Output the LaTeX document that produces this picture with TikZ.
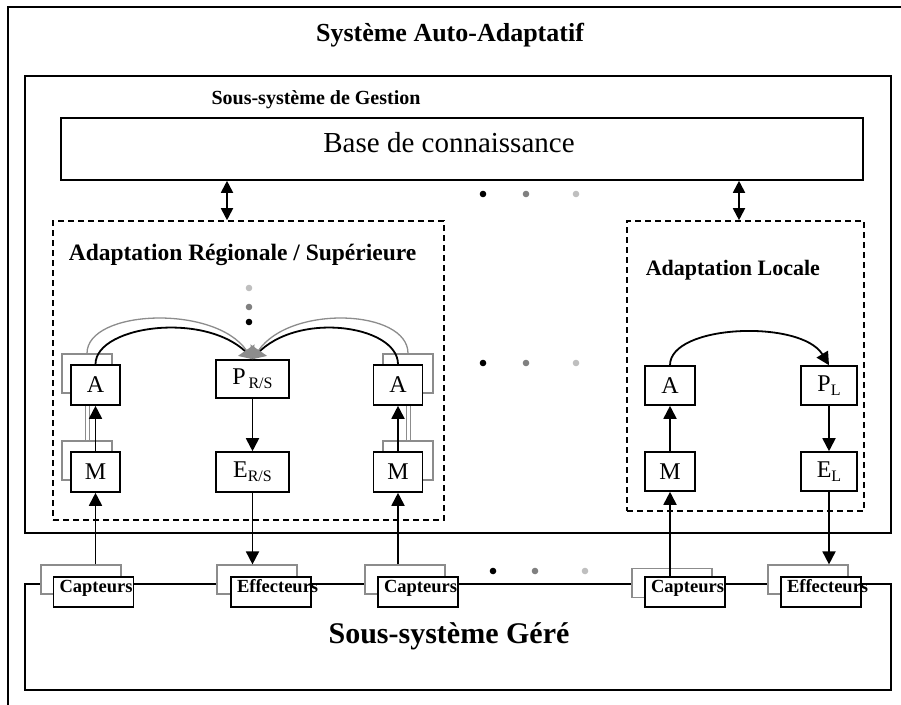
\documentclass[tikz,border=0pt]{standalone}
\usepackage{fontspec}
\setmainfont{Liberation Serif}
\usetikzlibrary{arrows.meta,positioning}
\definecolor{shade}{gray}{0.55}
\definecolor{dotmid}{gray}{0.5}
\definecolor{dotlight}{gray}{0.75}

\begin{document}
\begin{tikzpicture}[x=1pt, y=-1pt, line width=1.6pt, frame/.style={draw, inner sep=0pt}, dbox/.style={draw, dash pattern=on 6pt off 4pt, inner sep=0pt}, lbl/.style={inner sep=0pt}, box/.style={draw, fill=white, inner sep=0pt, minimum width=49pt, minimum height=40pt, font=\fontsize{24}{26}\selectfont}, ghost/.style={draw=shade, line width=1.2pt, fill=white, inner sep=0pt, minimum width=50pt, minimum height=39pt}, sens/.style={draw, fill=white, inner xsep=6pt, inner ysep=0pt, text width=68pt, align=left, minimum height=30pt, text height=13pt, text depth=13pt, font=\bfseries\fontsize{18.5}{19}\selectfont}, sensghost/.style={ghost, minimum width=80pt, minimum height=29pt}, arr/.style={line width=1.8pt, -{Triangle[length=13pt, width=13pt]}}, darr/.style={line width=1.8pt, {Triangle[length=12pt, width=12pt]}-{Triangle[length=12pt, width=12pt]}}, garr/.style={draw=shade, line width=1.3pt, -{Triangle[length=11pt, width=20pt]}}, glink/.style={draw=shade, line width=1pt, double, double distance=3pt}]
\useasboundingbox (0,0) rectangle (901,704);
% whole system and the two subsystems
\draw (8,7) rectangle (912,714);
\node[lbl, font=\bfseries\fontsize{26}{28}\selectfont] (title) at (450,35) {Système Auto-Adaptatif};
\node[frame, minimum width=866pt, minimum height=457pt] (gestion) at (458,304.5) {};
\node[lbl, font=\bfseries\fontsize{20}{22}\selectfont] (gestionlbl) at (316,100) {Sous-système de Gestion};
\node[frame, minimum width=802pt, minimum height=62pt] (base) at (462,149) {};
\node[lbl, font=\fontsize{29}{31}\selectfont] (baselbl) at (449,143) {Base de connaissance};
\node[frame, minimum width=866pt, minimum height=106pt] (gere) at (458,637) {};
\node[lbl, font=\bfseries\fontsize{30}{32}\selectfont] (gerelbl) at (449,636) {Sous-système Géré};
% adaptation regions
\node[dbox, minimum width=391pt, minimum height=299pt] (regional) at (248.5,370.5) {};
\node[lbl, anchor=west, font=\bfseries\fontsize{23.5}{25}\selectfont] (reglbl) at (68,255) {Adaptation Régionale / Supérieure};
\node[dbox, minimum width=237pt, minimum height=290pt] (local) at (745.5,366) {};
\node[lbl, anchor=west, font=\bfseries\fontsize{22}{24}\selectfont] (loclbl) at (645,270) {Adaptation Locale};
\draw[darr] (base.south -| 227,0) -- (regional.north -| 227,0);
\draw[darr] (base.south -| 739,0) -- (local.north -| 739,0);
% dots
\foreach \x/\c in {483/black, 526/dotmid, 576/dotlight} {
  \fill[\c] (\x,194) circle (3.3pt);
  \fill[\c] (\x,363) circle (3.3pt);
}
\foreach \x/\c in {493/black, 535/dotmid, 585/dotlight}
  \fill[\c] (\x,571) circle (3.3pt);
\foreach \y/\c in {322/black, 307/dotmid, 288/dotlight}
  \fill[\c] (249,\y) circle (3.3pt);
% regional loop: shadow copies first
\node[ghost] (aLg) at (87,373.5) {};
\node[ghost] (mLg) at (87,460.5) {};
\node[ghost] (aRg) at (408,373.5) {};
\node[ghost] (mRg) at (408,460.5) {};
\draw[glink] (mLg.north) -- (mLg.north |- 0,405);
\draw[glink] (mRg.north) -- (mRg.north |- 0,405);
\node[box] (aL) at (95.5,385) {A};
\node[box] (mL) at (95.5,472) {M};
\node[box, minimum width=73pt, minimum height=38pt] (pRS) at (252.5,379) {P\raisebox{-4pt}{\fontsize{16}{16}\selectfont\,R/S}};
\node[box, minimum width=73pt] (eRS) at (252.5,472) {E\raisebox{-4pt}{\fontsize{16}{16}\selectfont R/S}};
\node[box] (aR) at (398,385) {A};
\node[box] (mR) at (398,472) {M};
\draw[arr] (mL) -- (aL);
\draw[arr] (mR) -- (aR);
\draw[arr] (pRS) -- (eRS);
\draw[line width=1.8pt] (aL.north) .. controls +(0,-40) and +(-38,-50) .. (pRS.north);
\draw[line width=1.8pt] (aR.north) .. controls +(0,-40) and +(38,-50) .. (pRS.north);
\draw[garr] (aLg.north) .. controls +(0,-44) and +(-38,-55) .. (pRS.north);
\draw[garr] (aRg.north) .. controls +(0,-44) and +(38,-55) .. (pRS.north);
% local loop
\node[box, minimum width=50pt, minimum height=39pt] (aLoc) at (670,385.5) {A};
\node[box, minimum width=56pt, minimum height=39pt] (pLoc) at (829,385.5) {P\raisebox{-4pt}{\fontsize{16}{16}\selectfont L}};
\node[box, minimum width=50pt, minimum height=39pt] (mLoc) at (670,471.5) {M};
\node[box, minimum width=56pt, minimum height=39pt] (eLoc) at (829,471.5) {E\raisebox{-4pt}{\fontsize{16}{16}\selectfont L}};
\draw[arr] (aLoc.north) .. controls +(0,-41) and +(-28,-46) .. (pLoc.north);
\draw[arr] (mLoc) -- (aLoc);
\draw[arr] (pLoc) -- (eLoc);
% sensors and effectors on the managed subsystem
\node[sensghost] (cap1g) at (81,579.5) {};
\node[sens] (cap1) at (93.5,592) {Capteurs};
\node[sensghost] (eff1g) at (257,579.5) {};
\node[sens] (eff1) at (271,592) {Effecteurs};
\node[sensghost] (cap2g) at (405,579.5) {};
\node[sens] (cap2) at (418,592) {Capteurs};
\node[sensghost] (cap3g) at (672,583) {};
\node[sens] (cap3) at (685,592) {Capteurs};
\node[sensghost] (eff2g) at (808,579.5) {};
\node[sens] (eff2) at (821,592) {Effecteurs};
\draw[arr] (mL.south |- cap1g.north) -- (mL.south);
\draw[arr] (eRS.south) -- (eRS.south |- eff1g.north);
\draw[arr] (mR.south |- cap2g.north) -- (mR.south);
\draw[arr] (mLoc.south |- cap3.north) -- (mLoc.south);
\draw[arr] (eLoc.south) -- (eLoc.south |- eff2g.north);
\end{tikzpicture}
\end{document}
